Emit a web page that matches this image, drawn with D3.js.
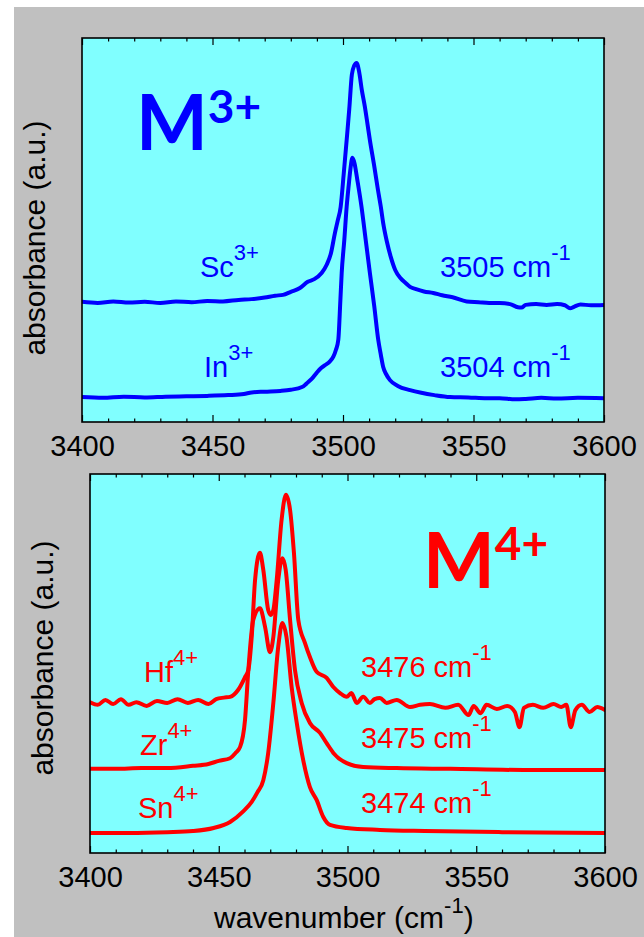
<!DOCTYPE html>
<html>
<head>
<meta charset="utf-8">
<script src="https://cdn.jsdelivr.net/npm/d3@7"></script>
<style>
html,body{margin:0;padding:0;background:#fff;}
svg{display:block;font-family:"Liberation Sans",Arial,sans-serif;}
</style>
</head>
<body>
<div id="chart"></div>
<script>
const xTicks = [3400,3450,3500,3550,3600];
const xDomain = [3400,3600];

// M3+ spectra
const scWave = [3400,3406,3412,3418,3424,3430,3436,3442,3448,3454,3460,3465,3470,3474,3477,3480,3483.5,3486.5,3489,3491.8,3493.8,3495.4,3496.9,3498,3499.1,3500.3,3501.4,3502.4,3503.4,3504.3,3505.2,3506.2,3507.2,3508.4,3509.4,3510.3,3512,3513.4,3514.5,3515.4,3516.8,3518.3,3520,3522,3524,3525.7,3528,3531,3534.6,3538,3542,3547.4,3552,3556,3560,3564,3567,3568.4,3570,3574,3578,3582,3585,3587,3588.5,3591,3595,3600];
const scAbs = [0.313,0.310,0.314,0.311,0.313,0.310,0.314,0.312,0.315,0.314,0.318,0.320,0.324,0.329,0.331,0.339,0.349,0.365,0.372,0.388,0.410,0.440,0.492,0.525,0.560,0.648,0.734,0.815,0.905,0.928,0.935,0.911,0.865,0.820,0.775,0.734,0.665,0.604,0.560,0.518,0.470,0.430,0.396,0.375,0.362,0.352,0.346,0.340,0.336,0.330,0.325,0.314,0.312,0.310,0.310,0.307,0.299,0.298,0.305,0.307,0.305,0.307,0.304,0.296,0.300,0.306,0.304,0.305];

const inWave = [3400,3408,3416,3424,3432,3440,3448,3456,3462,3465,3470,3476,3480,3484.3,3486,3488,3489.9,3491.5,3493.1,3495,3496.3,3497.3,3498.2,3499,3499.5,3500.5,3501.4,3502.2,3502.8,3503.6,3504.4,3505.5,3507.1,3508.7,3510.3,3512,3513.5,3514.5,3515.4,3516.5,3518,3521,3525.7,3530,3535,3541,3548,3555,3560,3566,3570,3576,3582,3590,3600];
const inAbs = [0.065,0.063,0.066,0.064,0.066,0.067,0.068,0.070,0.073,0.077,0.079,0.081,0.084,0.091,0.100,0.112,0.128,0.140,0.148,0.158,0.170,0.188,0.214,0.318,0.388,0.474,0.560,0.617,0.656,0.688,0.674,0.630,0.560,0.474,0.388,0.300,0.214,0.175,0.143,0.125,0.109,0.094,0.083,0.076,0.070,0.065,0.064,0.062,0.062,0.059,0.060,0.063,0.061,0.063,0.062];

// M4+ spectra
const hfWave = [3400,3403,3406,3409,3412,3415,3418,3422,3426,3430,3434,3438,3442,3446,3449,3452,3454.4,3457.5,3460.2,3461.5,3462.8,3464.1,3466,3467.3,3469.2,3470.2,3471.2,3472.5,3474.4,3476.1,3477.7,3479.2,3480.9,3483.5,3485.4,3488,3491.9,3494.5,3497.1,3499.7,3501.5,3503.6,3506.1,3508.7,3510.5,3512.6,3515.2,3519.1,3524.3,3528.2,3532,3538,3543,3547,3549,3551.7,3554,3558,3562,3565,3566.8,3568.5,3572,3576,3580,3583,3585,3586.7,3588.5,3591,3594,3597,3600];
const hfAbs = [0.398,0.391,0.404,0.393,0.406,0.391,0.398,0.388,0.401,0.396,0.406,0.396,0.404,0.393,0.406,0.410,0.412,0.430,0.464,0.483,0.570,0.720,0.792,0.747,0.641,0.628,0.641,0.720,0.879,0.945,0.905,0.792,0.615,0.554,0.517,0.478,0.462,0.438,0.422,0.412,0.422,0.396,0.412,0.396,0.406,0.409,0.396,0.404,0.385,0.391,0.393,0.383,0.391,0.364,0.388,0.369,0.391,0.380,0.388,0.372,0.332,0.383,0.391,0.383,0.393,0.385,0.391,0.332,0.377,0.391,0.372,0.385,0.377];

const zrWave = [3400,3410,3420,3430,3440,3446,3450,3454.4,3456.5,3458.3,3460.2,3461.5,3463.4,3466,3468,3469.9,3471.2,3473.1,3474.7,3476,3477.7,3479.6,3482.2,3485.4,3489.3,3491.9,3494.5,3499.7,3506.1,3519.1,3540,3570,3600];
const zrAbs = [0.222,0.222,0.224,0.224,0.230,0.235,0.243,0.250,0.264,0.280,0.351,0.483,0.615,0.646,0.596,0.530,0.570,0.720,0.778,0.747,0.615,0.483,0.396,0.343,0.317,0.290,0.264,0.237,0.227,0.224,0.222,0.219,0.219];

const snWave = [3400,3415,3430,3440,3448,3454.4,3459.5,3462.8,3465,3467.3,3469.2,3471.2,3473.1,3474.7,3476.3,3478.3,3480.3,3482.8,3485.4,3488,3490.6,3493.2,3499.7,3512.6,3530,3560,3600];
const snAbs = [0.053,0.053,0.055,0.058,0.066,0.082,0.110,0.135,0.160,0.192,0.264,0.396,0.544,0.607,0.570,0.438,0.343,0.245,0.174,0.140,0.095,0.074,0.066,0.061,0.058,0.055,0.053];

const m3Names = ["Sc","In"];
const m3Peaks = ["3505","3504"];
const m4Names = ["Hf","Zr","Sn"];
const m4Peaks = ["3476","3475","3474"];

const W = 644, H = 937;
const svg = d3.select("#chart").append("svg")
  .attr("width",W).attr("height",H);

svg.append("rect").attr("width",W).attr("height",H).attr("fill","#fff");
svg.append("rect").attr("x",14).attr("y",7).attr("width",W-14).attr("height",H-7).attr("fill","#c0c0c0");

function zip(xs,ys){ return xs.map((x,i)=>[x,ys[i]]); }

function drawPanel(id,box,series,color){
  const x = d3.scaleLinear().domain(xDomain).range([box.left,box.right]);
  const y = d3.scaleLinear().domain([0,1]).range([box.bottom,box.top]);

  svg.append("rect")
    .attr("x",box.left).attr("y",box.top)
    .attr("width",box.right-box.left).attr("height",box.bottom-box.top)
    .attr("fill","#80ffff");

  svg.append("clipPath").attr("id","clip"+id)
    .append("rect")
    .attr("x",box.left).attr("y",box.top)
    .attr("width",box.right-box.left).attr("height",box.bottom-box.top);

  const line = d3.line()
    .x(d=>x(d[0])).y(d=>y(d[1]))
    .curve(d3.curveMonotoneX);

  svg.append("g").attr("clip-path","url(#clip"+id+")")
    .selectAll("path")
    .data(series)
    .enter().append("path")
    .attr("d",line)
    .attr("fill","none")
    .attr("stroke",color)
    .attr("stroke-width",4)
    .attr("stroke-linejoin","round")
    .attr("stroke-linecap","round");

  const minor = d3.range(3410,3600,10).filter(v=>v%50!==0);

  // inward ticks on bottom and top edges
  svg.append("g").attr("transform","translate(0,"+box.bottom+")")
    .call(d3.axisBottom(x).tickValues(minor).tickSize(-3.5).tickFormat(""))
    .call(g=>g.select(".domain").remove());
  svg.append("g").attr("transform","translate(0,"+box.top+")")
    .call(d3.axisTop(x).tickValues(minor).tickSize(-3.5).tickFormat(""))
    .call(g=>g.select(".domain").remove());
  svg.append("g").attr("transform","translate(0,"+box.top+")")
    .call(d3.axisTop(x).tickValues(xTicks).tickSize(-7).tickFormat(""))
    .call(g=>g.select(".domain").remove());

  const ax = svg.append("g").attr("transform","translate(0,"+box.bottom+")")
    .call(d3.axisBottom(x).tickValues(xTicks).tickSize(-7).tickFormat(d3.format("d")));
  ax.select(".domain").remove();
  ax.selectAll("text")
    .attr("y",34).attr("dy",null)
    .attr("fill","#000")
    .style("font-size","29px")
    .style("font-family","'Liberation Sans',Arial,sans-serif");
  svg.selectAll(".tick line").attr("stroke","#000").attr("stroke-width",1.2);

  svg.append("rect")
    .attr("x",box.left).attr("y",box.top)
    .attr("width",box.right-box.left).attr("height",box.bottom-box.top)
    .attr("fill","none").attr("stroke","#000").attr("stroke-width",1.6);

  return {x,y};
}

function supText(px,py,base,sup,color,size,supSize,rise,tail){
  const t = svg.append("text")
    .attr("x",px).attr("y",py)
    .attr("fill",color)
    .style("font-size",size+"px");
  t.append("tspan").text(base);
  t.append("tspan").attr("dy",-rise).style("font-size",supSize+"px").text(sup);
  if(tail) t.append("tspan").attr("dy",rise).text(tail);
  return t;
}

// top panel
const topBox = {left:82,right:604,top:38,bottom:422};
drawPanel("a",topBox,[zip(scWave,scAbs),zip(inWave,inAbs)],"#0000ff");

// bottom panel
const botBox = {left:90,right:605,top:474,bottom:853};
drawPanel("b",botBox,[zip(hfWave,hfAbs),zip(zrWave,zrAbs),zip(snWave,snAbs)],"#ff0000");

// y titles
[[45,238],[53,658]].forEach(p=>{
  svg.append("text")
    .attr("transform","translate("+p[0]+","+p[1]+") rotate(-90)")
    .attr("text-anchor","middle")
    .attr("fill","#000")
    .style("font-size","30px")
    .text("absorbance (a.u.)");
});

// x title
supText(214,928,"wavenumber (cm","-1","#000",30,22,15,")");

// big M labels
const bigFont = "Lato,'Open Sans',sans-serif";
supText(136,150,"M","3+","#0000ff",76,46,27).style("font-family",bigFont).style("font-weight","bold");
supText(423,588,"M","4+","#ff0000",76,46,28).style("font-family",bigFont).style("font-weight","bold");

// species annotations
const m3Y = [277,377];
const m3X = [200,204];
m3Names.forEach((n,i)=>{
  supText(m3X[i],m3Y[i],n,"3+","#0000ff",29,22,17);
  supText(440,m3Y[i],m3Peaks[i]+" cm","-1","#0000ff",29,22,17);
});

const m4Y = [682,755,818];
const m4X = [144,140,138];
const m4PY = [677,748,813];
m4Names.forEach((n,i)=>{
  supText(m4X[i],m4Y[i],n,"4+","#ff0000",29,22,17);
  supText(361,m4PY[i],m4Peaks[i]+" cm","-1","#ff0000",29,22,17);
});
</script>
</body>
</html>
